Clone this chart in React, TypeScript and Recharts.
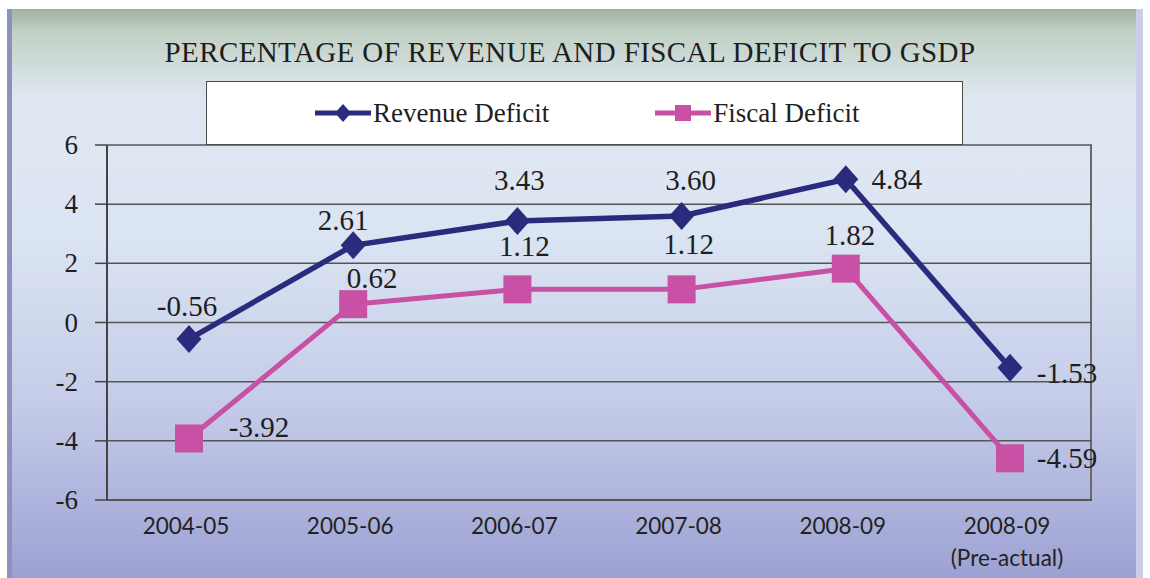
import React from "react";
import { LineChart, Line, XAxis, YAxis, CartesianGrid, LabelList } from "recharts";

const years = ["2004-05", "2005-06", "2006-07", "2007-08", "2008-09", "2008-09 (Pre-actual)"];
const revenueDeficit = [-0.56, 2.61, 3.43, 3.6, 4.84, -1.53];
const fiscalDeficit = [-3.92, 0.62, 1.12, 1.12, 1.82, -4.59];
const yTicks = [-6, -4, -2, 0, 2, 4, 6];

const data = years.map((year, i) => ({ year, revenue: revenueDeficit[i], fiscal: fiscalDeficit[i] }));

const NAVY = "#2b2b7d";
const PINK = "#c851a5";
const SERIF = "'Liberation Serif', 'Times New Roman', serif";
const SANS = "Lato, 'Open Sans', sans-serif";

// label nudges (dx, dy) per point, matching where the source placed them
const revOffsets = [[-2, -33], [-10, -25], [2, -41], [9, -36], [51, 0], [57, 5]];
const fisOffsets = [[70, -11], [19, -26], [7, -43], [7, -45], [4, -34], [57, 0]];

const Diamond = ({ cx, cy, rx = 12.5, ry = 14 }: { cx: number; cy: number; rx?: number; ry?: number }) => (
  <path d={`M${cx},${cy - ry} L${cx + rx},${cy} L${cx},${cy + ry} L${cx - rx},${cy} Z`} fill={NAVY} />
);

const Square = ({ cx, cy, s = 14 }: { cx: number; cy: number; s?: number }) => (
  <rect x={cx - s} y={cy - s} width={s * 2} height={s * 2} fill={PINK} />
);

const makeLabel = (offsets: number[][]) => (props: any) => {
  const { x, y, value, index } = props;
  const [dx, dy] = offsets[index] || [0, -20];
  return (
    <text x={x + dx} y={y + dy} textAnchor="middle" dominantBaseline="central"
      style={{ fontFamily: SERIF, fontSize: 29 }} fill="#1e1e1e">
      {Number(value).toFixed(2)}
    </text>
  );
};

const XTick = ({ x, y, payload }: any) => {
  const parts = String(payload.value).split(" ");
  return (
    <g>
      {parts.map((p, i) => (
        <text key={i} x={x - 3} y={y + 26 + i * 32} textAnchor="middle" style={{ fontFamily: SANS, fontSize: 22.5 }} fill="#222">
          {p}
        </text>
      ))}
    </g>
  );
};

const YTick = ({ x, y, payload }: any) => (
  <text x={x} y={y} textAnchor="end" dominantBaseline="central" style={{ fontFamily: SERIF, fontSize: 27 }} fill="#1e1e1e">
    {payload.value}
  </text>
);

const LegendBox = () => (
  <div style={{
    position: "absolute", left: 206, top: 81, width: 757, height: 64, boxSizing: "border-box",
    background: "#fff", border: "1.5px solid #4a4a4a",
    display: "flex", alignItems: "center", fontFamily: SERIF, fontSize: 27, color: "#1e1e1e",
  }}>
    <svg width={56} height={20} style={{ marginLeft: 108 }}>
      <line x1={0} y1={10} x2={56} y2={10} stroke={NAVY} strokeWidth={5} />
      <Diamond cx={28} cy={10} rx={8} ry={9} />
    </svg>
    <span style={{ marginLeft: 2 }}>Revenue Deficit</span>
    <svg width={56} height={20} style={{ marginLeft: 106 }}>
      <line x1={0} y1={10} x2={56} y2={10} stroke={PINK} strokeWidth={5} />
      <Square cx={28} cy={10} s={8} />
    </svg>
    <span style={{ marginLeft: 2 }}>Fiscal Deficit</span>
  </div>
);

export default function App() {
  return (
    <div style={{ position: "absolute", left: 0, top: 0, width: 1150, height: 578, background: "#fff", overflow: "hidden" }}>
      {/* bevelled frame with the sage-to-lavender fill */}
      <div style={{
        position: "absolute", left: 7, top: 9, width: 1136, height: 569,
        background: "linear-gradient(180deg, #a0b29c 0%, #c1d0c4 4%, #dfe8f1 16%, #dbe4f2 40%, #c4cbe8 70%, #9ca1d3 100%)",
        borderLeft: "5px solid #8b92bc", borderRight: "7px solid #c9cfe6", boxSizing: "border-box",
      }} />
      {/* plot frame */}
      <div style={{
        position: "absolute", left: 107, top: 145, width: 985, height: 355,
        borderRight: "2px solid #6a6a6a", boxSizing: "border-box",
      }} />
      <div style={{
        position: "absolute", left: 0, top: 36, width: 1140, textAlign: "center",
        fontFamily: SERIF, fontSize: 29, color: "#1e1e1e", letterSpacing: 0.4,
      }}>
        PERCENTAGE OF REVENUE AND FISCAL DEFICIT TO GSDP
      </div>
      <div style={{ position: "absolute", left: 0, top: 0 }}>
        <LineChart width={1150} height={578} data={data} margin={{ top: 145, right: 58, bottom: 18, left: 27 }}>
          <CartesianGrid vertical={false} stroke="#555" strokeWidth={1.5} />
          <XAxis dataKey="year" padding={{ left: 82, right: 82 }} height={60}
            axisLine={{ stroke: "#555", strokeWidth: 2 }} tickLine={false} tick={<XTick />} interval={0} />
          <YAxis domain={[-6, 6]} ticks={yTicks} width={80} tickSize={12} tickMargin={17}
            axisLine={{ stroke: "#444", strokeWidth: 2 }} tickLine={{ stroke: "#444", strokeWidth: 1.5 }}
            tick={<YTick />} />
          <Line dataKey="fiscal" name="Fiscal Deficit" stroke={PINK} strokeWidth={5} isAnimationActive={false}
            dot={(p: any) => <Square key={`f${p.index}`} cx={p.cx} cy={p.cy} />} activeDot={false}>
            <LabelList dataKey="fiscal" content={makeLabel(fisOffsets)} />
          </Line>
          <Line dataKey="revenue" name="Revenue Deficit" stroke={NAVY} strokeWidth={5.5} isAnimationActive={false}
            dot={(p: any) => <Diamond key={`r${p.index}`} cx={p.cx} cy={p.cy} />} activeDot={false}>
            <LabelList dataKey="revenue" content={makeLabel(revOffsets)} />
          </Line>
        </LineChart>
      </div>
      <LegendBox />
    </div>
  );
}
